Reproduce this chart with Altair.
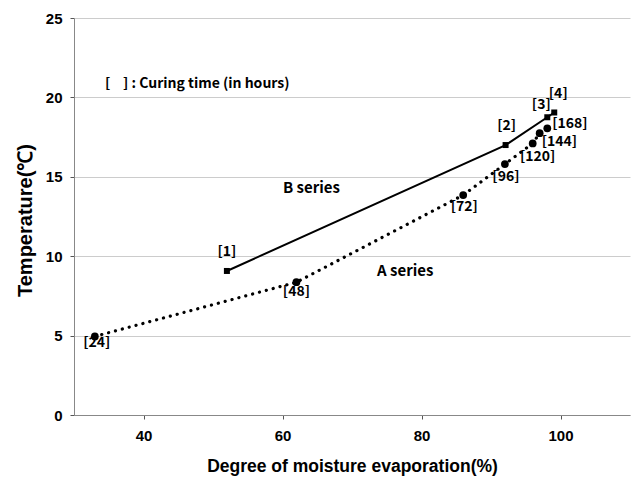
import altair as alt
import pandas as pd

# ---- data ----
a_x = [33, 62, 86, 92, 96, 97, 98.1]
a_y = [4.95, 8.36, 13.85, 15.8, 17.1, 17.75, 18.05]
a_lab = ["[24]", "[48]", "[72]", "[96]", "[120]", "[144]", "[168]"]

b_x = [52, 92.1, 98.1, 99.1]
b_y = [9.07, 17.0, 18.75, 19.05]
b_lab = ["[1]", "[2]", "[3]", "[4]"]

series_names = ["A series", "B series"]
note_text = "[\u00a0\u00a0\u00a0\u00a0]\u00a0: Curing time (in hours)"

x_title = "Degree of moisture evaporation(%)"
y_title = "Temperature(℃)"
x_ticks = [40, 60, 80, 100]
y_ticks = [0, 5, 10, 15, 20, 25]

# ---- tables ----
dfa = pd.DataFrame({"x": a_x, "y": a_y, "lab": a_lab})
dfb = pd.DataFrame({"x": b_x, "y": b_y, "lab": b_lab})

W, H = 556, 397
LBL_FONT = "Noto Sans CJK KR"

xs = alt.Scale(domain=[30, 110], nice=False, zero=False)
ys = alt.Scale(domain=[0, 25], nice=False)

xenc = alt.X("x:Q", scale=xs, axis=alt.Axis(
    title=x_title, values=x_ticks, grid=False, domainColor="#888888",
    tickColor="#555555", tickSize=4, labelFont="Liberation Sans",
    labelFontSize=15, labelFontWeight="bold", labelColor="black", labelPadding=9,
    titleFont="Liberation Sans", titleFontSize=17.5, titleFontWeight="bold",
    titleColor="black", titleX=278, titleY=51, titleBaseline="middle",
    titleAlign="center", titleAnchor="middle"))
yenc = alt.Y("y:Q", scale=ys, axis=alt.Axis(
    title=y_title, values=y_ticks, grid=True, gridColor="#cccccc",
    domainColor="#888888", tickColor="#555555", tickSize=4,
    labelFont="Liberation Sans", labelFontSize=15, labelFontWeight="bold",
    labelColor="black", labelPadding=8,
    titleFont="Liberation Sans", titleFontSize=20, titleFontWeight="bold",
    titleColor="black", titleX=-49, titleY=202, titleAngle=270,
    titleBaseline="middle", titleAlign="center", titleAnchor="middle"))

base_a = alt.Chart(dfa)
base_b = alt.Chart(dfb)

line_a = base_a.mark_line(color="black", strokeWidth=3.2, strokeDash=[0.1, 7],
                          strokeCap="round").encode(x=xenc, y=yenc)
pts_a = base_a.mark_point(filled=True, shape="circle", size=60, color="black",
                          opacity=1).encode(x="x:Q", y="y:Q")
line_b = base_b.mark_line(color="black", strokeWidth=2).encode(x="x:Q", y="y:Q")
pts_b = base_b.mark_point(filled=True, shape="square", size=36, color="black",
                          opacity=1).encode(x="x:Q", y="y:Q")

# label offsets (layout only)
offsets = {
    "[1]": (0, -19, "center"), "[2]": (1, -19, "center"),
    "[3]": (-6, -12, "center"), "[4]": (4, -18, "center"),
    "[24]": (2, 7, "center"), "[48]": (0, 10, "center"),
    "[72]": (1, 12, "center"), "[96]": (1, 13, "center"),
    "[120]": (5, 14, "center"), "[144]": (2, 9, "left"),
    "[168]": (5, -4, "left"),
}

label_layers = []
for base, labs in ((base_a, a_lab), (base_b, b_lab)):
    for lab in labs:
        dx, dy, al = offsets[lab]
        label_layers.append(
            base.transform_filter(alt.datum.lab == lab).mark_text(
                font=LBL_FONT, fontSize=14, fontWeight="bold", color="black",
                dx=dx, dy=dy, align=al, baseline="middle"
            ).encode(x="x:Q", y="y:Q", text="lab:N"))

ann_df = pd.DataFrame({"t": [note_text, series_names[1], series_names[0]],
                       "k": ["note", "B", "A"]})
note = alt.Chart(ann_df).transform_filter(alt.datum.k == "note").mark_text(
    font=LBL_FONT, fontSize=14, fontWeight="bold", color="black", align="left",
    baseline="middle").encode(x=alt.value(31), y=alt.value(66), text="t:N")
b_txt = alt.Chart(ann_df).transform_filter(alt.datum.k == "B").mark_text(
    font=LBL_FONT, fontSize=15, fontWeight="bold", color="black", align="left",
    baseline="middle").encode(x=alt.value(209), y=alt.value(170), text="t:N")
a_txt = alt.Chart(ann_df).transform_filter(alt.datum.k == "A").mark_text(
    font=LBL_FONT, fontSize=15, fontWeight="bold", color="black", align="left",
    baseline="middle").encode(x=alt.value(303), y=alt.value(253), text="t:N")

chart = alt.layer(line_a, line_b, pts_a, pts_b, *label_layers, note, b_txt, a_txt).properties(
    width=W, height=H, autosize=alt.AutoSizeParams(type="none"),
    padding={"left": 74, "top": 18, "right": 4, "bottom": 64},
    background="white",
).configure_view(stroke=None)

chart.save("out.html", embed_options={"renderer": "svg", "actions": False})
